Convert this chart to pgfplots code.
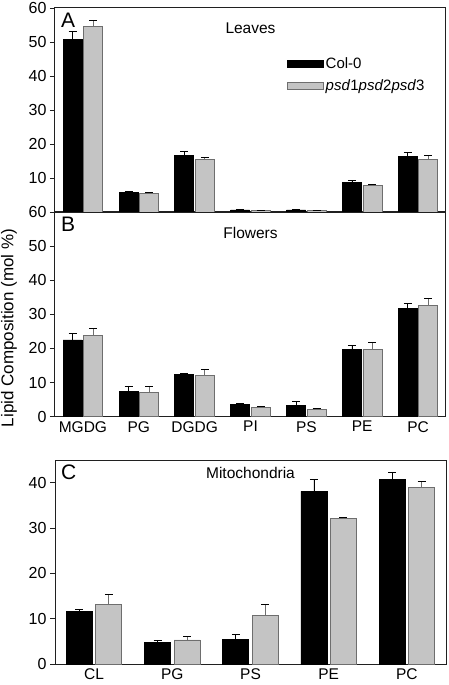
\documentclass[border=0pt]{standalone}
\usepackage{fontspec}
\setmainfont{Liberation Sans}
\usepackage{pgfplots}
\pgfplotsset{compat=1.18}
\definecolor{barg}{HTML}{C4C4C4}
\definecolor{barge}{HTML}{6E6E6E}
\definecolor{axc}{HTML}{202020}
\pgfplotsset{
  panel/.style={
    scale only axis, width=391pt,
    axis line style={line width=1pt, color=axc},
    ymin=0,
    major x tick style={draw=none},
    ytick pos=left, tick align=outside, major tick length=5pt,
    major y tick style={line width=0.8pt, color=axc},
    yticklabel style={font=\fontsize{16}{16}\selectfont},
    xticklabel style={font=\fontsize{15.5}{15.5}\selectfont, yshift=4pt},
    /pgf/number format/assume math mode=true,
  },
  colS/.style={fill=black, draw=black, line width=0.8pt,
    /pgfplots/legend image code/.code={\draw[##1] (0pt,-3.5pt) rectangle (36pt,3.5pt);},
    error bars/.cd, y dir=plus, y explicit,
    error mark options={rotate=90, mark size=4pt, line width=0.8pt},
    error bar style={line width=0.8pt}},
  psdS/.style={fill=barg, draw=barge, line width=0.8pt,
    /pgfplots/legend image code/.code={\draw[##1] (0pt,-3.5pt) rectangle (36pt,3.5pt);},
    error bars/.cd, y dir=plus, y explicit,
    error mark options={rotate=90, mark size=4pt, line width=0.8pt},
    error bar style={line width=0.8pt}},
}
\begin{document}
\begin{tikzpicture}
\useasboundingbox (0pt,0pt) rectangle (448pt,-685pt);
% Panel A
\begin{axis}[panel, at={(55pt,-8pt)}, anchor=north west, height=204pt,
  ybar=1.5pt, bar width=19pt,
  xmin=-0.5, xmax=6.5, xtick={0,...,6}, xticklabels={},
  ymax=60, ytick={10,20,...,60},
  legend style={draw=none, fill=none, at={(rel axis cs:0.585,0.775)}, anchor=north west,
    font=\fontsize{15}{15}\selectfont, row sep=5pt, cells={anchor=west}},
]
\addplot[colS] coordinates {(0,50.8) +- (0,2.3) (1,5.8) +- (0,0.3) (2,16.6) +- (0,1.3) (3,0.6) +- (0,0.1) (4,0.6) +- (0,0.1) (5,8.7) +- (0,0.7) (6,16.3) +- (0,1.1)};
\addlegendentry{Col-0}
\addplot[psdS] coordinates {(0,54.5) +- (0,1.8) (1,5.5) +- (0,0.2) (2,15.5) +- (0,0.6) (3,0.5) +- (0,0.1) (4,0.5) +- (0,0.1) (5,7.8) +- (0,0.4) (6,15.4) +- (0,1.2)};
\addlegendentry{\textit{psd}1\textit{psd}2\textit{psd}3}
\node[font=\fontsize{15.5}{15.5}\selectfont] at (rel axis cs:0.5,0.9) {Leaves};
\node[font=\fontsize{21}{21}\selectfont, anchor=north west, inner sep=0pt] at ([xshift=6pt,yshift=-5pt]rel axis cs:0,1) {A};
\end{axis}
% Panel B
\begin{axis}[panel, at={(55pt,-212pt)}, anchor=north west, height=204.7pt,
  ybar=1.5pt, bar width=19pt,
  xmin=-0.5, xmax=6.5, xtick={0,...,6}, xticklabels={MGDG,PG,DGDG,PI,PS,PE,PC},
  ymax=60, ytick={0,10,...,60},
]
\addplot[colS] coordinates {(0,22.5) +- (0,2.0) (1,7.4) +- (0,1.6) (2,12.3) +- (0,0.5) (3,3.6) +- (0,0.2) (4,3.2) +- (0,1.4) (5,19.6) +- (0,1.4) (6,31.8) +- (0,1.3)};
\addplot[psdS] coordinates {(0,23.8) +- (0,2.0) (1,7.2) +- (0,1.8) (2,12.2) +- (0,1.8) (3,2.8) +- (0,0.1) (4,2.2) +- (0,0.2) (5,19.7) +- (0,2.0) (6,32.6) +- (0,2.2)};
\node[font=\fontsize{15.5}{15.5}\selectfont] at (rel axis cs:0.5,0.9) {Flowers};
\node[font=\fontsize{21}{21}\selectfont, anchor=north west, inner sep=0pt] at ([xshift=6pt,yshift=-5pt]rel axis cs:0,1) {B};
\end{axis}
% Panel C
\begin{axis}[panel, at={(55pt,-460pt)}, anchor=north west, height=204pt,
  ybar=3.5pt, bar width=26pt,
  xmin=-0.5, xmax=4.5, xtick={0,...,4}, xticklabels={CL,PG,PS,PE,PC},
  ymax=45, ytick={0,10,...,40},
]
\addplot[colS] coordinates {(0,11.5) +- (0,0.5) (1,4.7) +- (0,0.4) (2,5.4) +- (0,1.2) (3,38.1) +- (0,2.7) (4,40.7) +- (0,1.6)};
\addplot[psdS] coordinates {(0,13.1) +- (0,2.2) (1,5.3) +- (0,0.8) (2,10.8) +- (0,2.3) (3,32.1) +- (0,0.3) (4,39.0) +- (0,1.2)};
\node[font=\fontsize{15.5}{15.5}\selectfont] at (rel axis cs:0.5,0.935) {Mitochondria};
\node[font=\fontsize{21}{21}\selectfont, anchor=north west, inner sep=0pt] at ([xshift=6pt,yshift=-5pt]rel axis cs:0,1) {C};
\end{axis}
\node[rotate=90, font=\fontsize{17}{17}\selectfont] at (9pt,-328pt) {Lipid Composition (mol \%)};
\end{tikzpicture}
\end{document}
